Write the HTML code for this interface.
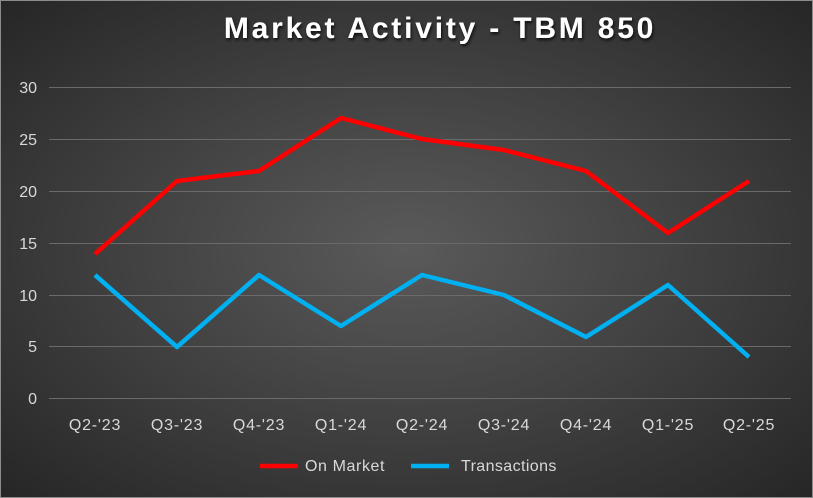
<!DOCTYPE html>
<html><head><meta charset="utf-8"><style>
html,body{margin:0;padding:0;}
body{width:813px;height:498px;overflow:hidden;}
.c{position:relative;width:811px;height:496px;border:1px solid #8c8c8c;background:radial-gradient(ellipse at 50% 50%,#5a5a5a 0%,#3e3e3e 55%,#262626 100%);}
</style></head><body><div class="c">
<svg width="811" height="496" viewBox="0 0 811 496" style="position:absolute;left:0;top:0" font-family="'Liberation Sans',sans-serif">
<defs><filter id="s"><feDropShadow dx="1" dy="2" stdDeviation="1.5" flood-color="#000" flood-opacity="0.8"/></filter></defs>
<text x="439" y="37" text-anchor="middle" font-size="30" font-weight="bold" fill="#fff" filter="url(#s)" letter-spacing="2.8">Market Activity - TBM 850</text>
<g stroke="#6a6a6a" stroke-width="1">
<line x1="48" x2="790" y1="86.5" y2="86.5"/><line x1="48" x2="790" y1="138.5" y2="138.5"/>
<line x1="48" x2="790" y1="190.5" y2="190.5"/><line x1="48" x2="790" y1="242.5" y2="242.5"/>
<line x1="48" x2="790" y1="294.5" y2="294.5"/><line x1="48" x2="790" y1="345.5" y2="345.5"/>
<line x1="48" x2="790" y1="397.5" y2="397.5"/>
</g>
<g fill="#d9d9d9" font-size="16" text-anchor="end">
<text x="36" y="92">30</text><text x="36" y="144">25</text><text x="36" y="196">20</text>
<text x="36" y="248">15</text><text x="36" y="300">10</text><text x="36" y="351">5</text><text x="36" y="403">0</text>
</g>
<g fill="#d9d9d9" font-size="16" text-anchor="middle" letter-spacing="0.8">
<text x="94" y="429">Q2-'23</text><text x="176" y="429">Q3-'23</text><text x="258" y="429">Q4-'23</text>
<text x="340" y="429">Q1-'24</text><text x="421" y="429">Q2-'24</text><text x="503" y="429">Q3-'24</text>
<text x="585" y="429">Q4-'24</text><text x="667" y="429">Q1-'25</text><text x="748" y="429">Q2-'25</text>
</g>
<polyline fill="none" stroke="#ff0000" stroke-width="4.5" stroke-linejoin="round" points="94,253 176,180 258,170 340,117 421,138 503,149 585,170 667,232 748,180"/>
<polyline fill="none" stroke="#00b0f0" stroke-width="4.5" stroke-linejoin="round" points="94,274 176,346 258,274 340,325 421,274 503,294 585,336 667,284 748,356"/>
<line x1="259" x2="297" y1="465" y2="465" stroke="#ff0000" stroke-width="4.5"/>
<text x="304" y="470" fill="#d9d9d9" font-size="16" letter-spacing="0.6">On Market</text>
<line x1="410" x2="448" y1="465" y2="465" stroke="#00b0f0" stroke-width="4.5"/>
<text x="460" y="470" fill="#d9d9d9" font-size="16" letter-spacing="0.4">Transactions</text>
</svg></div></body></html>
